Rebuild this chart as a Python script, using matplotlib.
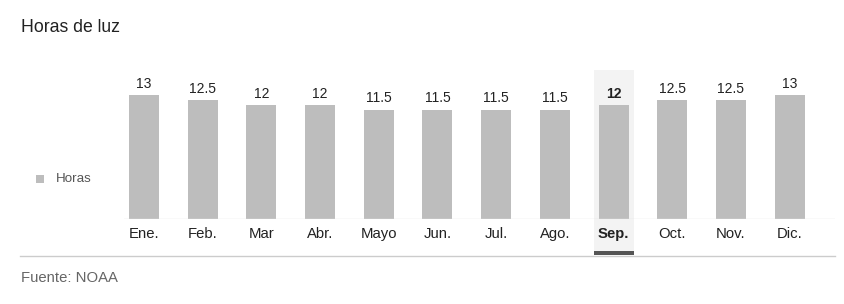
import matplotlib.pyplot as plt
from matplotlib.patches import Rectangle
from matplotlib.lines import Line2D
import matplotlib.transforms as mtransforms

months = ['Ene.', 'Feb.', 'Mar', 'Abr.', 'Mayo', 'Jun.', 'Jul.', 'Ago.',
          'Sep.', 'Oct.', 'Nov.', 'Dic.']
hours = [13, 12.5, 12, 12, 11.5, 11.5, 11.5, 11.5, 12, 12.5, 12.5, 13]
value_labels = ['13', '12.5', '12', '12', '11.5', '11.5', '11.5', '11.5',
                '12', '12.5', '12.5', '13']
current_month = 8  # Sep.

plt.rcParams['font.family'] = ['Liberation Sans', 'DejaVu Sans']

fig = plt.figure(figsize=(8.45, 3.04), dpi=100)
ax = fig.add_axes([0.1467, 0.2796, 0.8413, 0.523])

x = list(range(len(months)))
ax.set_xlim(-0.34, 11.77)
ax.set_ylim(0, 16.7)

# highlight behind the current month
trans = mtransforms.blended_transform_factory(ax.transData, ax.transAxes)
ax.add_patch(Rectangle((current_month - 0.34, -0.226), 0.68, 1.163,
                       transform=trans, facecolor='#f3f3f3', edgecolor='none',
                       clip_on=False, zorder=0))
ax.add_patch(Rectangle((current_month - 0.34, -0.226), 0.68, 0.025,
                       transform=trans, facecolor='#555555', edgecolor='none',
                       clip_on=False, zorder=1))

ax.bar(x, hours, width=0.51, color='#bdbdbd', zorder=2)

for i, (h, lab) in enumerate(zip(hours, value_labels)):
    ax.annotate(lab, (i, h), xytext=(0, 3), textcoords='offset points',
                ha='center', va='bottom', fontsize=10, color='#222222',
                fontweight='bold' if i == current_month else 'normal')

for s in ax.spines.values():
    s.set_visible(False)
ax.axhline(0, color='#e3e3e3', lw=1, zorder=3)
ax.set_yticks([])
ax.set_xticks(x)
ax.set_xticklabels(months, fontsize=10.7, color='#222222')
ax.tick_params(axis='x', length=0, pad=6)
ax.get_xticklabels()[current_month].set_fontweight('bold')

# title, legend, footer
fig.text(21 / 845, 1 - 28 / 304, 'Horas de luz', fontsize=12.7, color='#222222',
         va='center', ha='left')
fig.patches.append(Rectangle((36 / 845, 1 - 183 / 304), 8.5 / 845, 8.5 / 304,
                             transform=fig.transFigure, facecolor='#bdbdbd',
                             edgecolor='none'))
fig.text(55.5 / 845, 1 - 178.5 / 304, 'Horas', fontsize=9.6, color='#555555',
         va='center', ha='left')
fig.lines.append(Line2D([20 / 845, 835 / 845], [1 - 255.5 / 304, 1 - 255.5 / 304],
                        transform=fig.transFigure, color='#cccccc', lw=1))
fig.text(21 / 845, 1 - 278 / 304, 'Fuente: NOAA', fontsize=10.7, color='#666666',
         va='center', ha='left')

fig.savefig('out.png', dpi=100)
